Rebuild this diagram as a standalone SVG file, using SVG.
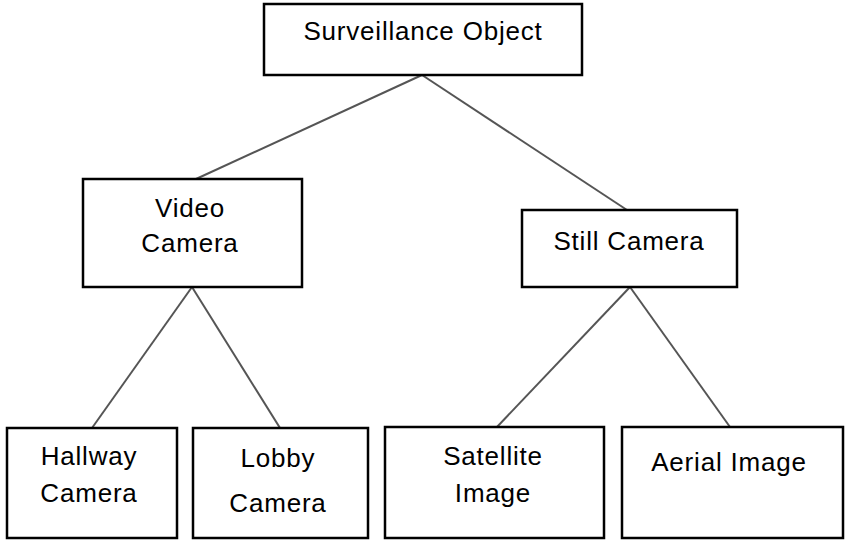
<svg xmlns="http://www.w3.org/2000/svg" width="850" height="544" viewBox="0 0 850 544">
<style>
.box{fill:#fff;stroke:#000;stroke-width:2.5}
.lbl{font-family:"Liberation Sans",Arial,sans-serif;font-size:26px;letter-spacing:0.8px;fill:#000;text-anchor:middle}
.con{stroke:#555;stroke-width:2;fill:none}
</style>
<rect width="850" height="544" fill="#fff"/>
<g id="connectors">
<line class="con" x1="422" y1="75" x2="196" y2="179"/>
<line class="con" x1="422" y1="75" x2="627" y2="210"/>
<line class="con" x1="192" y1="287" x2="92" y2="428"/>
<line class="con" x1="192" y1="287" x2="280" y2="428"/>
<line class="con" x1="630" y1="287" x2="497" y2="427"/>
<line class="con" x1="630" y1="287" x2="730" y2="427"/>
</g>
<g id="surveillance-object">
<rect class="box" x="264" y="4" width="318" height="71"/>
<text class="lbl" x="423" y="40">Surveillance Object</text>
</g>
<g id="video-camera">
<rect class="box" x="83" y="179" width="219" height="108"/>
<text class="lbl" x="190" y="217">Video</text>
<text class="lbl" x="190" y="252">Camera</text>
</g>
<g id="still-camera">
<rect class="box" x="522" y="210" width="215" height="77"/>
<text class="lbl" x="629" y="250">Still Camera</text>
</g>
<g id="hallway-camera">
<rect class="box" x="7" y="428" width="170" height="110"/>
<text class="lbl" x="89" y="465">Hallway</text>
<text class="lbl" x="89" y="502">Camera</text>
</g>
<g id="lobby-camera">
<rect class="box" x="193" y="428" width="175" height="110"/>
<text class="lbl" x="278" y="467">Lobby</text>
<text class="lbl" x="278" y="512">Camera</text>
</g>
<g id="satellite-image">
<rect class="box" x="385" y="427" width="219" height="111"/>
<text class="lbl" x="493" y="465">Satellite</text>
<text class="lbl" x="493" y="502">Image</text>
</g>
<g id="aerial-image">
<rect class="box" x="622" y="427" width="221" height="111"/>
<text class="lbl" x="729" y="471">Aerial Image</text>
</g>
</svg>
